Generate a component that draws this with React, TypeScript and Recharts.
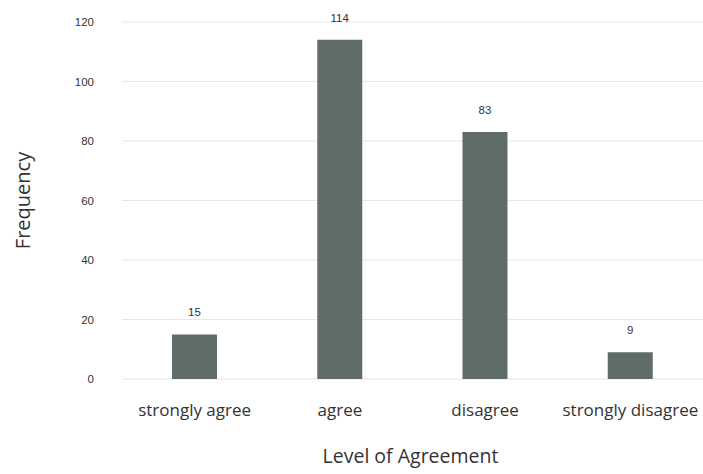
import React from 'react';
import { BarChart, Bar, XAxis, YAxis, CartesianGrid, LabelList } from 'recharts';

// survey responses per agreement level
const levels = ['strongly agree', 'agree', 'disagree', 'strongly disagree'];
const frequency = [15, 114, 83, 9];
const yTicks = [0, 20, 40, 60, 80, 100, 120];

const data = levels.map((level, i) => ({ level, frequency: frequency[i] }));

const BAR_COLOR = '#5f6c68';
const TEXT = '#333333';
const LABEL_FONT = '"Open Sans", Lato, sans-serif';
const NUM_FONT = 'Arial, "Liberation Sans", sans-serif';

const App = () => {
  return (
    <div style={{ position: 'absolute', left: 0, top: 0, background: '#fff' }}>
      <BarChart
        width={703}
        height={474}
        data={data}
        margin={{ top: 22, right: 0, bottom: 0, left: 0 }}
      >
        <CartesianGrid vertical={false} stroke="#e4e8e8" />
        <XAxis
          dataKey="level"
          height={95}
          axisLine={false}
          tickLine={false}
          tickMargin={19}
          tick={{ fill: TEXT, fontSize: 17, fontFamily: LABEL_FONT }}
          label={{
            content: ({ viewBox }: any) => (
              <text
                x={viewBox.x + viewBox.width / 2 - 2}
                y={viewBox.y + 84}
                textAnchor="middle"
                fill={TEXT}
                fontSize={19.5}
                fontFamily={LABEL_FONT}
              >
                Level of Agreement
              </text>
            ),
          }}
        />
        <YAxis
          width={122}
          domain={[0, 120]}
          ticks={yTicks}
          axisLine={false}
          tickLine={false}
          tickMargin={22}
          tick={{ fill: TEXT, fontSize: 11.5, fontFamily: NUM_FONT }}
          label={{
            content: ({ viewBox }: any) => {
              const cx = viewBox.x + 22;
              const cy = viewBox.y + viewBox.height / 2;
              return (
                <text
                  x={cx}
                  y={cy}
                  transform={`rotate(-90 ${cx} ${cy})`}
                  textAnchor="middle"
                  dominantBaseline="central"
                  fill={TEXT}
                  fontSize={20}
                  fontFamily={LABEL_FONT}
                >
                  Frequency
                </text>
              );
            },
          }}
        />
        <Bar dataKey="frequency" fill={BAR_COLOR} barSize={45} isAnimationActive={false}>
          <LabelList
            dataKey="frequency"
            position="top"
            offset={18}
            fill={TEXT}
            fontSize={11.5}
            fontFamily={NUM_FONT}
          />
        </Bar>
      </BarChart>
    </div>
  );
};

export default App;
